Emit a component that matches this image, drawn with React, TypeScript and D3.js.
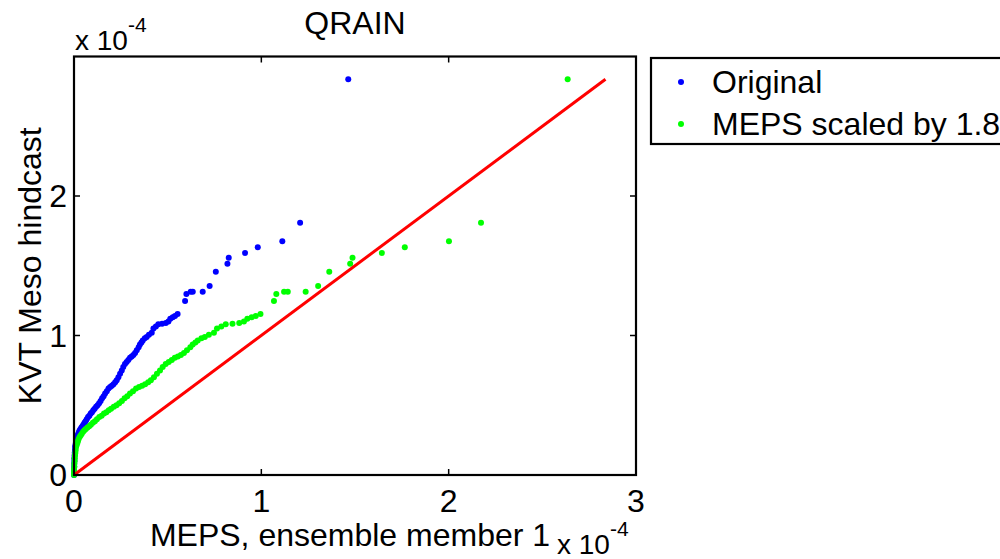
import React from "react";
import * as d3 from "d3";

// Values in units of 1e-4
const originalX = [0, 0, 0, 0.001, 0.001, 0.002, 0.002, 0.003, 0.004, 0.005, 0.006, 0.008, 0.010, 0.012, 0.014, 0.017, 0.020, 0.023, 0.027, 0.031, 0.035, 0.040, 0.045, 0.050, 0.056, 0.062, 0.068, 0.075, 0.082, 0.089, 0.096, 0.103, 0.110, 0.118, 0.126, 0.134, 0.142, 0.150, 0.158, 0.166, 0.175, 0.184, 0.193, 0.202, 0.211, 0.220, 0.228, 0.237, 0.246, 0.255, 0.263, 0.272, 0.281, 0.290, 0.299, 0.308, 0.317, 0.326, 0.335, 0.345, 0.352, 0.360, 0.367, 0.378, 0.388, 0.400, 0.415, 0.424, 0.437, 0.450, 0.470, 0.490, 0.504, 0.514, 0.527, 0.539, 0.553, 0.593, 0.600, 0.623, 0.634, 0.687, 0.724, 0.757, 0.819, 0.826, 0.913, 0.981, 1.112, 1.207, 1.464];
const originalY = [0, 0.02, 0.04, 0.06, 0.08, 0.10, 0.12, 0.14, 0.16, 0.18, 0.20, 0.215, 0.23, 0.245, 0.26, 0.275, 0.285, 0.295, 0.31, 0.32, 0.33, 0.34, 0.35, 0.36, 0.375, 0.385, 0.40, 0.415, 0.425, 0.44, 0.45, 0.465, 0.475, 0.49, 0.50, 0.515, 0.53, 0.55, 0.565, 0.585, 0.60, 0.62, 0.63, 0.64, 0.65, 0.665, 0.68, 0.70, 0.725, 0.75, 0.775, 0.795, 0.81, 0.825, 0.84, 0.85, 0.86, 0.875, 0.895, 0.915, 0.935, 0.95, 0.965, 0.98, 0.99, 1.005, 1.02, 1.05, 1.065, 1.08, 1.085, 1.09, 1.10, 1.12, 1.13, 1.14, 1.155, 1.247, 1.297, 1.314, 1.314, 1.314, 1.355, 1.457, 1.515, 1.558, 1.591, 1.632, 1.675, 1.809, 2.837];
const SCALE_FACTOR = 1.8;
const xTicks = [0, 1, 2, 3];
const yTicks = [0, 1, 2];
const legendLabels = ["Original", "MEPS scaled by 1.8"];

const FONT = "'Liberation Sans', Arial, Helvetica, sans-serif";

export default function App() {
  const L = 74, R = 636, T = 56.5, B = 475;
  const x = d3.scaleLinear().domain([0, 3]).range([L, R]);
  const y = d3.scaleLinear().domain([0, 3]).range([B, T]);
  const blue = originalX.map((v, i) => [v, originalY[i]]);
  const green = originalX.map((v, i) => [v * SCALE_FACTOR, originalY[i]]);
  const maxY = d3.max(originalY) as number;
  const fs = 32;
  const tick = 6;
  const r = 3;
  return (
    <svg width={1000} height={559} style={{ position: "absolute", left: 0, top: 0, background: "#fff" }} fontFamily={FONT}>
      <rect x={0} y={0} width={1000} height={559} fill="#fff" />
      {blue.map((p, i) => (
        <circle key={"b" + i} cx={x(p[0])} cy={y(p[1])} r={r} fill="#0000ff" />
      ))}
      {green.map((p, i) => (
        <circle key={"g" + i} cx={x(p[0])} cy={y(p[1])} r={r} fill="#00ff00" />
      ))}
      <line x1={x(0)} y1={y(0)} x2={x(maxY)} y2={y(maxY)} stroke="#ff0000" strokeWidth={3} />
      {/* axes box */}
      <rect x={L} y={T} width={R - L} height={B - T} fill="none" stroke="#000" strokeWidth={2.2} />
      {xTicks.map((t) => (
        <g key={"xt" + t}>
          <line x1={x(t)} x2={x(t)} y1={B} y2={B - tick} stroke="#000" strokeWidth={1.5} />
          <line x1={x(t)} x2={x(t)} y1={T} y2={T + tick} stroke="#000" strokeWidth={1.5} />
          <text x={x(t)} y={512} textAnchor="middle" fontSize={fs}>{t}</text>
        </g>
      ))}
      {yTicks.map((t) => (
        <g key={"yt" + t}>
          <line x1={L} x2={L + tick} y1={y(t)} y2={y(t)} stroke="#000" strokeWidth={1.5} />
          <line x1={R} x2={R - tick} y1={y(t)} y2={y(t)} stroke="#000" strokeWidth={1.5} />
          <text x={67} y={y(t) + 11} textAnchor="end" fontSize={fs}>{t}</text>
        </g>
      ))}
      {/* exponent labels */}
      <text x={75} y={50} fontSize={28}>x 10<tspan dy={-18} fontSize={21}>-4</tspan></text>
      <text x={557} y={554} fontSize={28}>x 10<tspan dy={-18} fontSize={21}>-4</tspan></text>
      {/* title and axis labels */}
      <text x={(L + R) / 2} y={34} textAnchor="middle" fontSize={fs}>QRAIN</text>
      <text x={350} y={546} textAnchor="middle" fontSize={fs}>MEPS, ensemble member 1</text>
      <text transform={`translate(41,${(T + B) / 2}) rotate(-90)`} textAnchor="middle" fontSize={fs}>KVT Meso hindcast</text>
      {/* legend */}
      <rect x={651} y={58} width={400} height={86} fill="#fff" stroke="#000" strokeWidth={2.2} />
      <circle cx={681} cy={82} r={r} fill="#0000ff" />
      <text x={712} y={93} fontSize={fs}>{legendLabels[0]}</text>
      <circle cx={681} cy={124} r={r} fill="#00ff00" />
      <text x={712} y={135} fontSize={fs}>{legendLabels[1]}</text>
    </svg>
  );
}
